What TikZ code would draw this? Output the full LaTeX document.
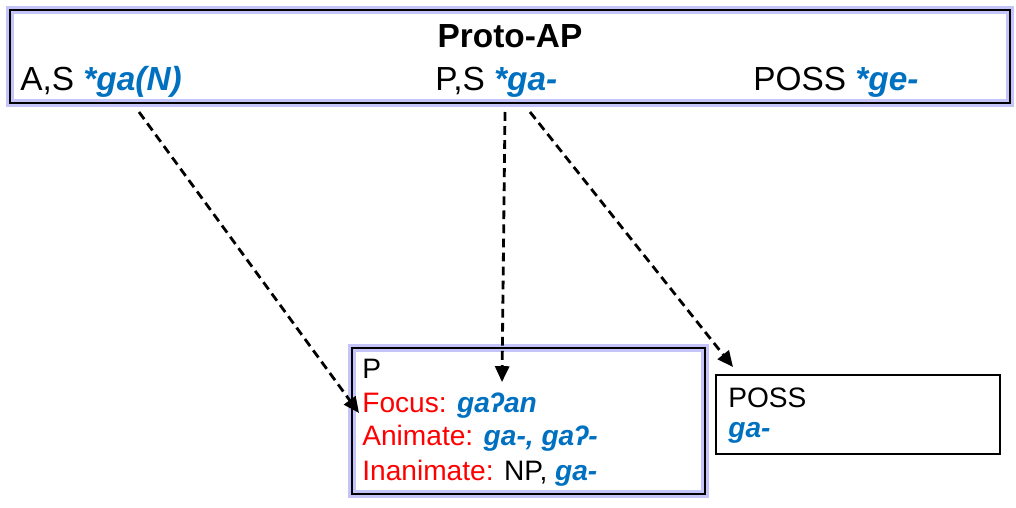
\documentclass[tikz,border=0pt]{standalone}
\usepackage{fontspec}
\setmainfont{Liberation Sans}
\usetikzlibrary{arrows.meta}

\definecolor{formblue}{RGB}{0,112,192}
\definecolor{glow}{RGB}{196,196,248}

\tikzset{
  glowbox/.style={draw=black, line width=1.6pt, preaction={draw=glow, line width=5pt}, inner sep=0pt},
  plainbox/.style={draw=black, line width=1.1pt, inner sep=0pt},
  txt/.style={inner sep=0pt, anchor=base west, font=\fontsize{19}{22}\selectfont},
  smalltxt/.style={inner sep=0pt, anchor=base west, font=\fontsize{16}{19}\selectfont},
  link/.style={dashed, dash pattern=on 5pt off 3pt, line width=1.6pt, -{Triangle[length=9pt,width=8pt]}}
}

\newcommand{\form}[1]{\textcolor{formblue}{\textbf{\textit{#1}}}}
\newcommand{\cat}[1]{\textcolor{red}{#1}}

\begin{document}
\begin{tikzpicture}[]

\useasboundingbox (0,0) rectangle (20.32,-10.16);

% boxes
\node[glowbox, minimum width=20cm, minimum height=1.86cm] (proto) at (10.2,-1.13) {};
\node[glowbox, minimum width=7.06cm, minimum height=2.92cm] (pbox) at (10.57,-8.42) {};
\node[plainbox, minimum width=5.68cm, minimum height=1.58cm] (possbox) at (17.16,-8.29) {};

% top row
\node[inner sep=0pt, anchor=base, font=\fontsize{19}{22}\selectfont\bfseries] (title) at (10.2,-0.94) {Proto-AP};
\node[txt] (as) at (0.4,-1.8) {A,S \form{*ga(N)}};
\node[txt] (ps) at (8.7,-1.8) {P,S \form{*ga-}};
\node[txt] (poss) at (15.06,-1.8) {POSS \form{*ge-}};

% P box
\node[smalltxt] (plabel) at (7.24,-7.56) {P};
\node[smalltxt] (focus) at (7.24,-8.24) {\cat{Focus:} \form{gaʔan}};
\node[smalltxt] (anim) at (7.24,-8.9) {\cat{Animate:} \form{ga-, gaʔ-}};
\node[smalltxt] (inanim) at (7.24,-9.6) {\cat{Inanimate:} NP, \form{ga-}};

% POSS box
\node[smalltxt] (posslabel) at (14.56,-8.14) {POSS};
\node[smalltxt] (possform) at (14.56,-8.74) {\form{ga-}};

% arrow ends
\coordinate (asfoot) at (2.78,-2.24);
\coordinate (psfoot) at (10.1,-2.24);
\coordinate (possfoot) at (10.6,-2.24);
\coordinate (focustip) at (7.18,-8.26);
\coordinate (ptip) at (10.04,-7.64);
\coordinate (posstip) at (14.66,-7.34);

\draw[link] (asfoot) -- (focustip);
\draw[link] (psfoot) -- (ptip);
\draw[link] (possfoot) -- (posstip);

\end{tikzpicture}
\end{document}
